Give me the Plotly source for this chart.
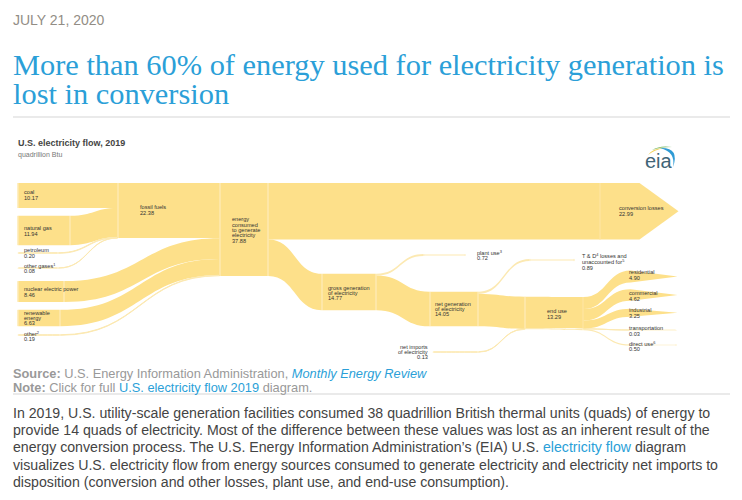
"""U.S. electricity flow, 2019 - EIA article card rebuilt as a Plotly sankey."""

import plotly.graph_objects as go

# The page body keeps its 8 px margin, so the figure sits at (8, 8)
BODY_MARGIN = 8
WIDTH, HEIGHT = 726, 484

# --------------------------------------------------------------------------- #
# Data (quadrillion Btu)
# --------------------------------------------------------------------------- #
FOSSIL_INPUTS = ["coal", "gas", "petroleum", "other_gases"]
FOSSIL_QUADS = [10.17, 11.94, 0.20, 0.08]
OTHER_INPUTS = ["nuclear", "renewable", "other"]
OTHER_QUADS = [8.46, 6.63, 0.19]
ENERGY_CONSUMED = 37.76
CONVERSION_LOSSES = 22.99
GROSS_GENERATION = 14.77
PLANT_USE = 0.72
NET_GENERATION = 14.05
TD_LOSSES = 0.89
NET_TO_END_USE = 13.16
NET_IMPORTS = 0.13
END_USE_ARROWS = ["residential", "commercial", "industrial"]
END_USE_ARROW_QUADS = [4.90, 4.62, 3.25]
END_USE_THIN = ["transportation", "direct"]
END_USE_THIN_QUADS = [0.03, 0.50]

# (text, x px, y px, anchor)
FLOW_LABELS = [
    ("coal<br>10.17", 24, 195, "left"),
    ("natural gas<br>11.94", 24, 231, "left"),
    ("petroleum<br>0.20", 24, 253, "left"),
    ("other gases<sup>1</sup><br>0.08", 24, 268, "left"),
    ("nuclear electric power<br>8.46", 24, 292, "left"),
    ("renewable<br>energy<br>6.63", 24, 318, "left"),
    ("other<sup>2</sup><br>0.19", 24, 336, "left"),
    ("fossil fuels<br>22.38", 140, 210, "left"),
    ("energy<br>consumed<br>to generate<br>electricity<br>37.88", 232, 230, "left"),
    ("conversion losses<br>22.99", 619, 211, "left"),
    ("gross generation<br>of electricity<br>14.77", 328, 293, "left"),
    ("net generation<br>of electricity<br>14.05", 435, 309, "left"),
    ("plant use<sup>3</sup><br>0.72", 477, 255, "left"),
    ("net imports<br>of electricity<br>0.13", 428, 352, "right"),
    ("T &amp; D<sup>4</sup> losses and", 582, 255, "left"),
    ("unaccounted for<sup>5</sup>", 582, 261.5, "left"),
    ("0.89", 582, 268, "left"),
    ("end use<br>13.29", 547, 314, "left"),
    ("residential<br>4.90", 629, 275, "left"),
    ("commercial<br>4.62", 629, 296, "left"),
    ("industrial<br>3.25", 629, 313, "left"),
    ("transportation<br>0.03", 629, 331, "left"),
    ("direct use<sup>6</sup><br>0.50", 629, 346, "left"),
]

BODY_LINES = [
    "In 2019, U.S. utility-scale generation facilities consumed 38 quadrillion British thermal units (quads) of energy to",
    "provide 14 quads of electricity. Most of the difference between these values was lost as an inherent result of the",
    "energy conversion process. The U.S. Energy Information Administration’s (EIA) U.S. <span style='color:#2B9FD8'>electricity flow</span> diagram",
    "visualizes U.S. electricity flow from energy sources consumed to generate electricity and electricity net imports to",
    "disposition (conversion and other losses, plant use, and end-use consumption).",
]

# --------------------------------------------------------------------------- #
# Shared style
# --------------------------------------------------------------------------- #
BAND = "#FDE08A"
THIN = "#FCE9B2"
FADE = "#FEF4D8"
LINK_BLUE = "#2B9FD8"
PX_PER_QUAD = 2.46
LABEL_PITCH = 5.3

# Node centres in page pixels (diagram layout, not data)
NODE_POS = {
    "coal": (18, 195.5), "gas": (18, 230.5), "petroleum": (18, 253), "other_gases": (18, 268),
    "nuclear": (18, 291.5), "renewable": (18, 318), "other": (18, 335),
    "gas_f": (70, 230.5), "petroleum_f": (58, 253), "other_gases_f": (58, 268),
    "nuclear_f": (64, 291.5), "renewable_f": (60, 318), "other_f": (60, 335),
    "fossil": (118, 210.5), "energy": (220, 229.5), "energy_f": (268, 229.5),
    "conv": (600, 211.3), "gross_l": (322, 292), "gross_r": (376, 292),
    "plant_l": (424, 255), "plant_end": (465, 255),
    "net_l": (430, 309), "net_r": (478, 309),
    "td_l": (530, 260), "td_end": (574, 260),
    "imports": (433, 352), "imports_f": (478, 352),
    "end_l": (525, 313), "end_top": (583, 312.7), "end_low": (583, 329.5),
    "transportation": (630, 330), "transportation_end": (676, 330),
    "direct": (630, 345), "direct_end": (676, 345),
}


def page_x(px):
    return (px - BODY_MARGIN) / WIDTH


def page_y(py):
    return 1 - (py - BODY_MARGIN) / HEIGHT


def sankey(edges, pos, column_quads, arrowlen=0, hidden=()):
    """Sankey trace from (source, target, value, color) edges.

    With pad=0 the link scale is domain height / largest column total, so the
    domain is sized to give PX_PER_QUAD; node centres may lie outside it.
    """
    names = list(pos)
    span = column_quads * PX_PER_QUAD
    top = 183
    node_value = {n: 0 for n in names}
    for s, t, v, _ in edges:
        node_value[s] = max(node_value[s], v)
        node_value[t] = max(node_value[t], v)
    colors = [BAND if node_value[n] >= 1 else THIN for n in names]
    colors = ["rgba(0,0,0,0)" if n in hidden else c for n, c in zip(names, colors)]
    return go.Sankey(
        arrangement="fixed",
        domain=dict(x=[0, 1], y=[page_y(top + span), page_y(top)]),
        hoverinfo="none",
        node=dict(
            pad=0,
            thickness=1,
            label=[""] * len(names),
            x=[page_x(pos[n][0]) for n in names],
            y=[(pos[n][1] - top) / span for n in names],
            color=colors,
            line=dict(width=0),
            hoverinfo="none",
        ),
        link=dict(
            source=[names.index(e[0]) for e in edges],
            target=[names.index(e[1]) for e in edges],
            value=[e[2] for e in edges],
            color=[e[3] for e in edges],
            arrowlen=arrowlen,
            hoverinfo="none",
        ),
    )


def band_color(v):
    return BAND if v >= 1 else THIN


# --------------------------------------------------------------------------- #
# Main flow
# --------------------------------------------------------------------------- #
edges = [("coal", "fossil", FOSSIL_QUADS[0], BAND)]
for name, v in zip(FOSSIL_INPUTS[1:], FOSSIL_QUADS[1:]):
    edges.append((name, name + "_f", v, band_color(v)))
    edges.append((name + "_f", "fossil", v, band_color(v)))
edges.append(("fossil", "energy", sum(FOSSIL_QUADS), BAND))
for name, v in zip(OTHER_INPUTS, OTHER_QUADS):
    edges.append((name, name + "_f", v, band_color(v)))
    edges.append((name + "_f", "energy", v, band_color(v)))
edges += [
    ("energy", "energy_f", ENERGY_CONSUMED, BAND),
    ("energy_f", "conv", CONVERSION_LOSSES, BAND),
    ("energy_f", "gross_l", GROSS_GENERATION, BAND),
    ("gross_l", "gross_r", GROSS_GENERATION, BAND),
    ("gross_r", "plant_l", PLANT_USE, THIN),
    ("plant_l", "plant_end", PLANT_USE, FADE),
    ("gross_r", "net_l", NET_GENERATION, BAND),
    ("net_l", "net_r", NET_GENERATION, BAND),
    ("net_r", "td_l", TD_LOSSES, THIN),
    ("td_l", "td_end", TD_LOSSES, FADE),
    ("net_r", "end_l", NET_TO_END_USE, BAND),
    ("imports", "imports_f", NET_IMPORTS, THIN),
    ("imports_f", "end_l", NET_IMPORTS, THIN),
    ("end_l", "end_top", sum(END_USE_ARROW_QUADS), BAND),
    ("end_l", "end_low", sum(END_USE_THIN_QUADS), THIN),
]
for name, v in zip(END_USE_THIN, END_USE_THIN_QUADS):
    edges.append(("end_low", name, v, THIN))
    edges.append((name, name + "_end", v, FADE))

# Last column is the fullest: everything that ends right of the diagram
sink_quads = (
    CONVERSION_LOSSES + PLANT_USE + TD_LOSSES + sum(END_USE_ARROW_QUADS) + sum(END_USE_THIN_QUADS)
)

# Tapered arrows need their own traces, arrowlen is per trace
end_pos = {
    "end_top": (583, 312.7),
    "residential": (678, 276.5), "commercial": (678, 295), "industrial": (678, 312.7),
}
end_edges = [("end_top", n, v, BAND) for n, v in zip(END_USE_ARROWS, END_USE_ARROW_QUADS)]
conv_pos = {"conv": (600, 211.3), "tip": (679, 211.3)}
conv_edges = [("conv", "tip", CONVERSION_LOSSES, BAND)]

fig = go.Figure(
    [
        sankey(edges, NODE_POS, sink_quads),
        sankey(end_edges, end_pos, sum(END_USE_ARROW_QUADS), arrowlen=48, hidden=END_USE_ARROWS),
        sankey(conv_edges, conv_pos, CONVERSION_LOSSES, arrowlen=39, hidden=["tip"]),
    ]
)


# --------------------------------------------------------------------------- #
# Text
# --------------------------------------------------------------------------- #
def add_text(text, x, y, size, color, family="Liberation Sans", anchor="left"):
    # annotations pad their box by about 2 px
    x = x - 2 if anchor == "left" else x + 2
    fig.add_annotation(
        text=text, x=page_x(x), y=page_y(y), xref="paper", yref="paper",
        xanchor=anchor, yanchor="middle", align=anchor, showarrow=False,
        font=dict(size=size, color=color, family=family),
    )


add_text("JULY 21, 2020", 13, 20, 14, "#928D85")
add_text("More than 60% of energy used for electricity generation is", 13, 65, 30.4, LINK_BLUE, "Liberation Serif")
add_text("lost in conversion", 13, 94, 30.4, LINK_BLUE, "Liberation Serif")
add_text("<b>U.S. electricity flow, 2019</b>", 18, 143, 9, "#444444")
add_text("quadrillion Btu", 18, 155, 7, "#777777")
for text, x, y, anchor in FLOW_LABELS:
    lines = text.split("<br>")
    for i, line in enumerate(lines):
        add_text(line, x, y + (i - (len(lines) - 1) / 2) * LABEL_PITCH, 5.6, "#333333", anchor=anchor)

add_text("eia", 645, 161, 20, "#3F6577")
add_text(
    "<b>Source:</b> U.S. Energy Information Administration, "
    f"<i><span style='color:{LINK_BLUE}'>Monthly Energy Review</span></i>",
    13, 373, 12.8, "#999999",
)
add_text(
    f"<b>Note:</b> Click for full <span style='color:{LINK_BLUE}'>U.S. electricity flow 2019</span> diagram.",
    13, 387, 12.8, "#999999",
)
for line, y in zip(BODY_LINES, [413, 430, 447, 465, 482]):
    add_text(line, 13, y, 14.15, "#444444")


def px_path(points):
    """SVG quad-curve crescent from page-pixel control points."""
    (x0, y0), (cx0, cy0), (x1, y1), (cx1, cy1) = points
    return (
        f"M {page_x(x0)} {page_y(y0)} Q {page_x(cx0)} {page_y(cy0)} {page_x(x1)} {page_y(y1)} "
        f"Q {page_x(cx1)} {page_y(cy1)} {page_x(x0)} {page_y(y0)} Z"
    )


logo_arcs = [
    ([(648, 155), (653, 148), (664, 148), (654, 150)], "#F2D35B"),
    ([(652, 150), (660, 145), (672, 147), (660, 147)], "#7DBB6A"),
    ([(660, 148), (680, 147), (673, 167), (676, 152)], "#2F9BD5"),
]
shapes = [
    dict(type="path", xref="paper", yref="paper", path=px_path(p), fillcolor=c, line=dict(width=0))
    for p, c in logo_arcs
]
for y in (117, 394):
    shapes.append(
        dict(type="line", xref="paper", yref="paper", x0=page_x(13), x1=page_x(730),
             y0=page_y(y), y1=page_y(y), line=dict(color="#D5D5D5", width=1))
    )

fig.update_layout(
    width=WIDTH,
    height=HEIGHT,
    margin=dict(l=0, r=0, t=0, b=0),
    paper_bgcolor="white",
    showlegend=False,
    shapes=shapes,
    hovermode=False,
)

fig.write_html("out.html")
